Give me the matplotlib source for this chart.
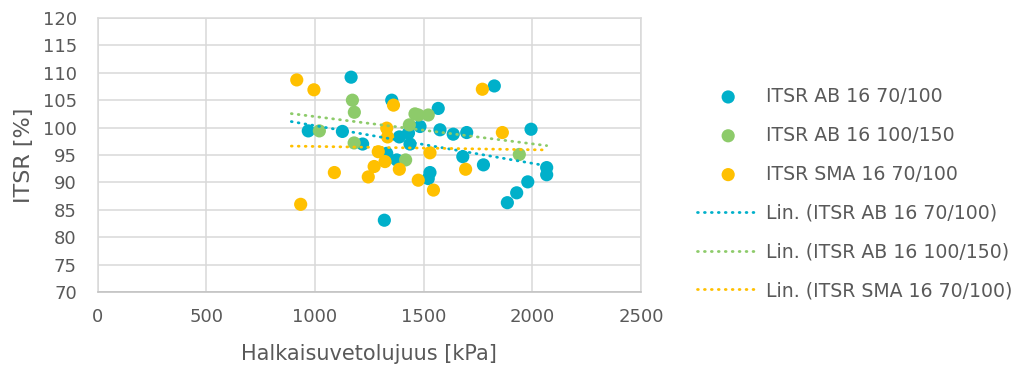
import matplotlib.pyplot as plt
import numpy as np

# ITSR AB 16 70/100
ab70_x = [969, 1126, 1166, 1219, 1330, 1319, 1353, 1376, 1388, 1430, 1437, 1483,
          1521, 1529, 1567, 1575, 1636, 1680, 1698, 1775, 1825, 1885, 1928, 1979,
          1994, 2066, 2066]
ab70_y = [99.4, 99.3, 109.2, 97.0, 95.3, 83.1, 105.0, 94.1, 98.3, 99.0, 97.0, 100.2,
          90.7, 91.8, 103.5, 99.6, 98.8, 94.7, 99.1, 93.2, 107.6, 86.3, 88.1, 90.1,
          99.7, 92.7, 91.4]

# ITSR AB 16 100/150
ab100_x = [1020, 1172, 1181, 1180, 1417, 1434, 1460, 1476, 1521, 1940]
ab100_y = [99.4, 105.0, 102.8, 97.2, 94.1, 100.5, 102.5, 102.3, 102.3, 95.1]

# ITSR SMA 16 70/100
sma_x = [916, 934, 995, 1089, 1245, 1272, 1291, 1322, 1330, 1334, 1361, 1388,
         1475, 1529, 1545, 1693, 1770, 1862]
sma_y = [108.7, 86.0, 106.9, 91.8, 91.0, 92.9, 95.6, 93.8, 99.9, 98.3, 104.1, 92.4,
         90.4, 95.4, 88.6, 92.4, 107.0, 99.1]

series = [
    ('ITSR AB 16 70/100', ab70_x, ab70_y, '#00B0CA'),
    ('ITSR AB 16 100/150', ab100_x, ab100_y, '#8DCB6A'),
    ('ITSR SMA 16 70/100', sma_x, sma_y, '#FFC000'),
]

W, H = 1019, 369
fig = plt.figure(figsize=(W / 100, H / 100), dpi=100)
ax = fig.add_axes([97.7 / W, 1 - 292 / H, (641 - 97.7) / W, (292 - 18) / H])

all_x = np.array(ab70_x + ab100_x + sma_x, dtype=float)
xr = np.array([all_x.min() - 25, all_x.max()])

dots = (0, (0.3, 2.2))
pts = []
trends = []
for name, xs, ys, col in series:
    h = ax.scatter(xs, ys, s=90, color=col, edgecolors='none', zorder=3, label=name)
    pts.append(h)
for name, xs, ys, col in series:
    k, b = np.polyfit(xs, ys, 1)
    ln, = ax.plot(xr, k * xr + b, color=col, lw=2.0, linestyle=dots,
                  dash_capstyle='round', zorder=4, label='Lin. (' + name + ')')
    trends.append(ln)

ax.set_xlim(0, 2500)
ax.set_ylim(70, 120)
ax.set_xticks(np.arange(0, 2501, 500))
ax.set_yticks(np.arange(70, 121, 5))
ax.grid(True, color='#D9D9D9', lw=1.1)
ax.set_axisbelow(True)
for sp in ax.spines.values():
    sp.set_color('#D9D9D9')
    sp.set_linewidth(1.1)
ax.spines['bottom'].set_color('#BFBFBF')
ax.tick_params(length=0, labelsize=13, colors='#595959')
ax.tick_params(axis='y', pad=15)
ax.tick_params(axis='x', pad=11.5)

fig.text(369 / W, 1 - 354 / H, 'Halkaisuvetolujuus [kPa]', fontsize=15,
         color='#595959', ha='center', va='center')
fig.text(24 / W, 1 - 155.5 / H, 'ITSR [%]', fontsize=16, color='#595959',
         ha='center', va='center', rotation=90)

fig.legend(pts + trends, [h.get_label() for h in pts + trends],
           loc='center left', bbox_to_anchor=(697 / W, 1 - 193.5 / H), frameon=False,
           fontsize=13.6, labelcolor='#595959', borderpad=0, borderaxespad=0,
           handlelength=3.3, handletextpad=0.35, labelspacing=1.05, markerscale=1.0)

fig.savefig('out.png', dpi=100)
